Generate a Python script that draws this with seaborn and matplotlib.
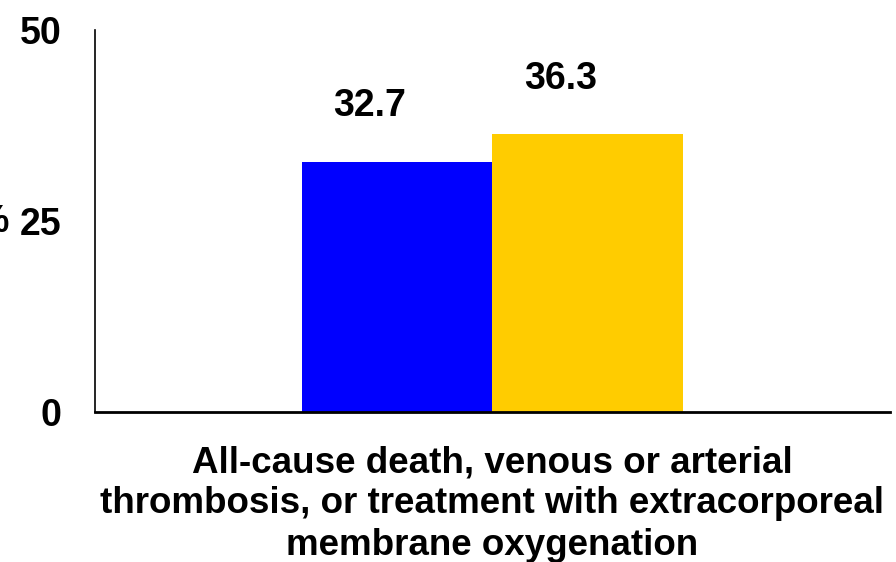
import pandas as pd
import matplotlib
matplotlib.use("Agg")
import matplotlib.pyplot as plt
import seaborn as sns

category = ["All-cause death, venous or arterial\nthrombosis, or treatment with extracorporeal\nmembrane oxygenation"]
groups = ["Group 1", "Group 2"]
values = [32.7, 36.3]
yticks = [0, 25, 50]

df = pd.DataFrame({"outcome": category * len(groups), "group": groups, "value": values})

sns.set_theme(style="white")
plt.rcParams['font.family'] = ['Liberation Sans', 'DejaVu Sans']
plt.rcParams['font.weight'] = 'bold'
plt.rcParams['text.color'] = 'black'
plt.rcParams['xtick.color'] = 'black'
plt.rcParams['ytick.color'] = 'black'

fig = plt.figure(figsize=(8.96, 5.62), dpi=100)
ax = fig.add_axes([0.106, 0.267, 0.887, 0.68])

sns.barplot(data=df, x="outcome", y="value", hue="group",
            palette=["#0000ff", "#ffcc00"], width=0.48, gap=0,
            saturation=1, legend=False, linewidth=0, ax=ax)

for p, v in zip(ax.patches, values):
    ax.annotate(f"{v}", xy=(p.get_x() + p.get_width() / 2, p.get_height()),
                xytext=(-19.5, 40), textcoords="offset points",
                ha="center", va="center", fontsize=27, fontweight="bold", color="black")

ax.set_ylim(0, 50)
ax.set_yticks(yticks)
ax.set_yticklabels([str(t) for t in yticks], fontsize=27, fontweight="bold")
ax.tick_params(axis="y", length=0, pad=24)
ax.tick_params(axis="x", length=0, pad=24)
for lab in ax.get_xticklabels():
    lab.set_fontsize(26.5)
    lab.set_fontweight("bold")
    lab.set_linespacing(1.23)
    lab.set_color("black")
ax.set_xlabel("")
ax.set_ylabel("")

sns.despine(ax=ax)
ax.spines["left"].set_color("black")
ax.spines["left"].set_linewidth(1.2)
ax.spines["bottom"].set_color("black")
ax.spines["bottom"].set_linewidth(2)

fig.text(8 / 896, 1 - 222 / 562, "%", ha="right", va="center", fontsize=27,
         fontweight="bold")

fig.savefig("out.png", dpi=100)
